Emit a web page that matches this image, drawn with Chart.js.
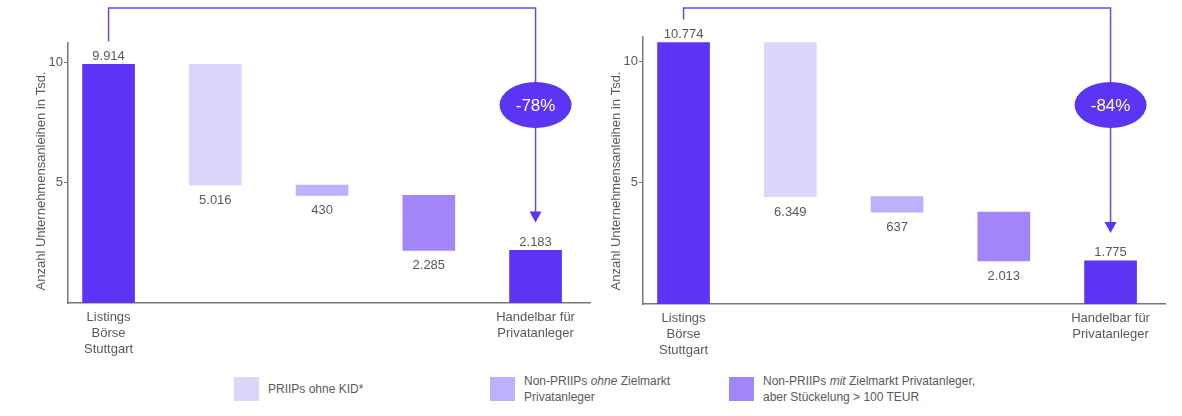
<!DOCTYPE html>
<html><head><meta charset="utf-8">
<script src="https://cdn.jsdelivr.net/npm/chart.js@4"></script>
<style>
body{margin:0;background:#fff;width:1182px;height:416px;position:relative;overflow:hidden;font-family:"Liberation Sans",Arial,sans-serif;}
#c1{position:absolute;left:0;top:0;}
#c2{position:absolute;left:576px;top:0;}
.leg{position:absolute;top:377px;height:24px;font-size:12px;color:#595959;line-height:16px;display:flex;align-items:center;white-space:nowrap}
.sw{width:25px;height:24px;margin-right:9px;flex:none}
</style></head>
<body>
<canvas id="c1" width="600" height="360"></canvas>
<canvas id="c2" width="606" height="360"></canvas>
<div id="legend"></div>
<script>
// ---- data ----
const categoryLabels = [['Listings','Börse','Stuttgart'], '', '', '', ['Handelbar für','Privatanleger']];
const leftStart = 9914;
const leftSteps = [5016, 430, 2285];
const leftEnd = 2183;
const rightStart = 10774;
const rightSteps = [6349, 637, 2013];
const rightEnd = 1775;
const changeLabels = ['-78%', '-84%'];
const yTickValues = [5, 10];
const yTitle = 'Anzahl Unternehmensanleihen in Tsd.';
const legendLabels = ['PRIIPs ohne KID*', 'Non-PRIIPs <i>ohne</i> Zielmarkt<br>Privatanleger', 'Non-PRIIPs <i>mit</i> Zielmarkt Privatanleger,<br>aber Stückelung &gt; 100 TEUR'];

// ---- style ----
const FONT = '"Liberation Sans", Arial, sans-serif';
const TXT = '#595959';
const AXIS = '#777777';
const DARK = '#5C34F3';
const stepColors = ['#DDD6FB', '#BEB0FA', '#A286F7'];
const LINE = '#6B48E8';
Chart.defaults.font.family = FONT;

function fmt(n){ return String(n).replace(/\B(?=(\d{3})+(?!\d))/g, '.'); }

function waterfall(start, steps, end){
  const pts = [{x:1, y:[0, start/1000]}];
  let cur = start;
  steps.forEach((s,i)=>{ pts.push({x:i+2, y:[(cur-s)/1000, cur/1000]}); cur -= s; });
  pts.push({x:steps.length+2, y:[0, end/1000]});
  return pts;
}

const overlay = {
  id:'overlay',
  afterDatasetsDraw(chart, args, opts){
    const {ctx, chartArea} = chart;
    const xs = chart.scales.x, ys = chart.scales.y;
    const meta = chart.getDatasetMeta(0);
    const counts = opts.counts;
    ctx.save();
    // value labels
    ctx.font = '13px ' + FONT;
    ctx.fillStyle = TXT;
    ctx.textAlign = 'center';
    ctx.textBaseline = 'alphabetic';
    meta.data.forEach((bar,i)=>{
      const p = bar.getProps(['x','y','base'], true);
      const top = Math.min(p.y, p.base), bot = Math.max(p.y, p.base);
      if (i===0 || i===counts.length-1) ctx.fillText(fmt(counts[i]), p.x, top-4.5);
      else ctx.fillText(fmt(counts[i]), p.x, bot+19);
    });
    // y title
    ctx.save();
    ctx.translate(chartArea.left-27, 181);
    ctx.rotate(-Math.PI/2);
    ctx.textBaseline = 'middle';
    ctx.fillText(yTitle, 0, 0);
    ctx.restore();
    // connector arrow
    const x1 = xs.getPixelForValue(1), x5 = xs.getPixelForValue(counts.length);
    const yStart = ys.getPixelForValue(counts[0]/1000) - 23;
    const yTip = ys.getPixelForValue(counts[counts.length-1]/1000) - 28;
    const yTop = 8;
    ctx.strokeStyle = LINE; ctx.lineWidth = 1.5;
    ctx.beginPath();
    ctx.moveTo(x1, yStart); ctx.lineTo(x1, yTop); ctx.lineTo(x5, yTop); ctx.lineTo(x5, yTip-8);
    ctx.stroke();
    ctx.fillStyle = DARK;
    ctx.beginPath();
    ctx.moveTo(x5-6, yTip-11); ctx.lineTo(x5+6, yTip-11); ctx.lineTo(x5, yTip); ctx.closePath();
    ctx.fill();
    ctx.beginPath();
    ctx.ellipse(x5, 105, 36, 23, 0, 0, Math.PI*2);
    ctx.fill();
    ctx.fillStyle = '#ffffff';
    ctx.font = '17px ' + FONT;
    ctx.textBaseline = 'middle';
    ctx.fillText(opts.change, x5, 106);
    ctx.restore();
  }
};

function makeChart(id, start, steps, end, change, ymax, padTop, padRight, yw, xh){
  const counts = [start, ...steps, end];
  const colors = [DARK, ...stepColors, DARK];
  return new Chart(document.getElementById(id), {
    type:'bar',
    data:{datasets:[{data:waterfall(start, steps, end), backgroundColor:colors, barThickness:52, borderWidth:0}]},
    options:{
      responsive:false, animation:false,
      layout:{padding:{top:padTop, right:padRight, left:0, bottom:0}},
      plugins:{legend:{display:false}, tooltip:{enabled:false}, overlay:{counts, change}},
      scales:{
        x:{type:'linear', min:0.62, max:5.51, offset:false, bounds:'ticks',
          afterBuildTicks:s=>{ s.ticks = categoryLabels.map((_,i)=>({value:i+1})); },
          afterFit:s=>{ s.height = xh; },
          ticks:{color:TXT, font:{size:13, lineHeight:1.23}, padding:6, maxRotation:0, autoSkip:false,
            callback:v=>categoryLabels[Math.round(v)-1] || ''},
          grid:{display:false, drawTicks:false, offset:false},
          border:{display:true, color:AXIS, width:1.5}},
        y:{min:0, max:ymax,
          afterBuildTicks:s=>{ s.ticks = yTickValues.map(v=>({value:v})); },
          afterFit:s=>{ s.width = yw; },
          ticks:{color:TXT, font:{size:13}, padding:1},
          grid:{drawOnChartArea:false, drawTicks:true, tickLength:4, color:AXIS, lineWidth:1},
          border:{display:true, color:AXIS, width:1.5}}
      }
    },
    plugins:[overlay]
  });
}

makeChart('c1', leftStart, leftSteps, leftEnd, changeLabels[0], 10.8, 43, 10, 68, 57);
makeChart('c2', rightStart, rightSteps, rightEnd, changeLabels[1], 11.0, 37, 17, 67, 56);

// legend
const legendX = [234, 490, 729];
const leg = document.getElementById('legend');
legendLabels.forEach((t,i)=>{
  const d = document.createElement('div');
  d.className = 'leg';
  d.style.left = legendX[i] + 'px';
  d.innerHTML = '<div class="sw" style="background:' + stepColors[i] + '"></div><div>' + t + '</div>';
  leg.appendChild(d);
});
</script>
</body></html>
